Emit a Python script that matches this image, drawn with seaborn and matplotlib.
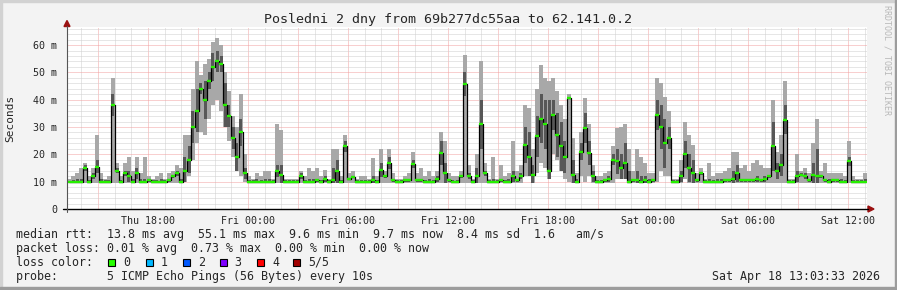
import matplotlib
matplotlib.use('Agg')
import matplotlib.pyplot as plt
import seaborn as sns
import numpy as np
import pandas as pd
from matplotlib.lines import Line2D
from matplotlib.patches import Rectangle, Polygon

# ---------------- data (ms, one value per 14.4-minute step) ----------------
med = [10, 10, 10, 10, 15, 10, 12, 15.5, 10, 10,
       10, 38, 14, 10, 13, 12, 10, 13, 10, 10,
       10.5, 10, 10, 10, 10, 10.5, 12, 13, 10, 14,
       18, 30, 36, 44, 40, 47, 52, 54, 53, 38,
       34, 26, 19, 28, 13, 10, 10, 10, 10, 10,
       10, 10, 13.8, 12.6, 10, 10, 10, 10, 12, 10,
       10, 10, 10.5, 10, 11, 10, 10.7, 13.8, 10, 23,
       11, 11.6, 10, 10, 10, 10, 10.5, 10, 14.4, 12,
       16.8, 10.5, 10, 10, 10.5, 10.5, 16.5, 10.5, 10.5, 10,
       10, 10, 11, 20.5, 13, 10.5, 10, 10, 12, 45.7,
       12, 10, 12, 31, 13, 10, 10, 10, 10.5, 10,
       10, 12, 10.5, 12, 23.5, 19, 12.6, 26.6, 33, 31,
       14, 34.5, 27, 23, 19, 40.6, 12.6, 10, 21, 29.6,
       20.5, 12, 10, 10, 10.5, 11, 18, 17.4, 15, 17,
       10, 10.5, 10.5, 10, 10.5, 10, 10.5, 34.5, 30, 24,
       26, 10, 10, 12, 20, 15, 13, 10.5, 13, 10,
       10, 10, 10, 10, 10.5, 10.5, 11, 13, 10.5, 10.5,
       10.5, 10.5, 11, 10.5, 11, 12, 23, 14, 16, 32.7,
       10, 10, 12, 12.5, 12, 10.5, 12.5, 12, 12, 10.5,
       10, 10.5, 10.5, 10, 10, 17.4, 10, 10, 10, 10]

hi = [11, 12, 13, 15, 17, 12, 15, 27, 13, 11,
      12, 48, 17, 12, 17, 19, 14, 19, 13, 19,
      12, 11, 12, 13, 11, 13, 14, 16, 15, 27,
      27, 44, 54, 49, 53, 55, 61, 62.5, 60, 50,
      43, 34, 30, 42, 20, 12, 11, 13, 12, 14,
      14, 11, 31, 29, 11, 11, 11, 11, 14, 12,
      15, 14, 15, 12, 14.4, 11, 22, 22, 12, 27,
      13, 14, 11, 12, 12, 11, 18.7, 12, 22, 14,
      22, 13, 11, 11, 12, 13, 21, 13, 15, 12,
      14, 12, 14, 28, 25, 13, 12, 12, 14, 56.5,
      16, 11, 20, 54, 17, 11, 19, 11, 16, 12,
      13, 25, 14, 16, 38, 37, 22, 44, 52.8, 48,
      47, 48, 43, 38, 33, 42, 26, 13, 28, 40.6,
      31, 16, 12, 12, 13, 14, 23, 29.6, 30, 31,
      22, 14, 22, 19, 17, 13, 13, 48, 46, 41,
      36, 11, 11, 18, 32, 27, 23.5, 13, 15, 11,
      17, 12, 13, 13, 14, 15, 21, 21, 15, 16,
      14, 17, 18, 16, 15, 15, 40, 21, 27, 47,
      11, 11, 20, 14, 15, 13, 24, 33, 14, 17,
      13, 13, 13, 13, 12, 25, 12, 11, 11, 13]

dk = [10, 10.5, 11, 11, 16, 10.5, 13, 18, 11, 10.5,
      10.5, 42, 15, 10.5, 14, 14, 11, 15, 11, 11,
      11, 10.5, 10.5, 11, 10.5, 11, 12.5, 14, 11, 19,
      23, 36, 44, 46, 47, 50, 57, 58, 56, 46,
      38, 30, 24, 33, 15, 10.5, 10.5, 11, 10.5, 11,
      11, 10.5, 16, 16, 10.5, 10.5, 10.5, 10.5, 13, 10.5,
      11, 11, 11, 10.5, 12, 10.5, 15, 18, 10.5, 25,
      11.5, 12, 10.5, 10.5, 10.5, 10.5, 12, 10.5, 17, 12.5,
      19, 11, 10.5, 10.5, 11, 11, 18, 11, 11, 10.5,
      11, 10.5, 12, 25, 17, 11, 10.5, 10.5, 12.5, 50,
      13, 10.5, 15, 40, 14, 10.5, 11, 10.5, 11, 10.5,
      11, 14, 11, 13, 30, 28, 16, 34, 42, 40,
      40, 40, 35, 32, 25, 41, 18, 11, 24, 35,
      25, 14, 10.5, 10.5, 11, 12, 20, 22, 20, 24,
      14, 11, 14, 12, 12, 11, 11, 40, 38, 33,
      30, 10.5, 10.5, 14, 25, 20, 18, 11, 13.5, 10.5,
      11, 10.5, 11, 11, 11, 11, 14, 16, 11, 11,
      11, 11, 12, 11, 12, 12.5, 32, 17, 20, 38,
      10.5, 10.5, 14, 13, 13, 11, 17, 22, 12.5, 11,
      11, 11, 11, 11, 10.5, 19, 10.5, 10.5, 10.5, 11]

lo = [9.6, 9.6, 9.6, 9.6, 9.6, 9.6, 9.6, 9.6, 9.6, 9.6,
      9.6, 9.6, 9.6, 9.6, 9.6, 9.6, 9.6, 9.6, 9.6, 9.6,
      9.6, 9.6, 9.6, 9.6, 9.6, 9.6, 9.6, 9.6, 9.6, 10,
      12, 18, 24, 28, 27, 33, 38, 40, 36, 30,
      25, 19, 14, 12, 10, 9.6, 9.6, 9.6, 9.6, 9.6,
      9.6, 9.6, 9.6, 9.6, 9.6, 9.6, 9.6, 9.6, 9.6, 9.6,
      9.6, 9.6, 9.6, 9.6, 9.6, 9.6, 9.6, 9.6, 9.6, 9.6,
      9.6, 9.6, 9.6, 9.6, 9.6, 9.6, 9.6, 9.6, 9.6, 9.6,
      9.6, 9.6, 9.6, 9.6, 9.6, 9.6, 9.6, 9.6, 9.6, 9.6,
      9.6, 9.6, 9.6, 9.6, 9.6, 9.6, 9.6, 9.6, 9.6, 9.6,
      9.6, 9.6, 9.6, 9.6, 9.6, 9.6, 9.6, 9.6, 9.6, 9.6,
      9.6, 9.6, 9.6, 9.6, 12, 12, 9.6, 13, 17, 15,
      11, 20, 18, 14, 11, 10, 9.6, 9.6, 12, 10,
      12, 9.6, 9.6, 9.6, 9.6, 9.6, 9.6, 11, 11, 11,
      9.6, 9.6, 9.6, 9.6, 9.6, 9.6, 9.6, 10, 14, 12,
      12, 9.6, 9.6, 9.6, 11, 9.6, 9.6, 9.6, 9.6, 9.6,
      9.6, 9.6, 9.6, 9.6, 9.6, 9.6, 9.6, 9.6, 9.6, 9.6,
      9.6, 9.6, 9.6, 9.6, 9.6, 9.6, 9.6, 9.6, 9.6, 9.6,
      9.6, 9.6, 9.6, 9.6, 9.6, 9.6, 9.6, 9.6, 9.6, 9.6,
      9.6, 9.6, 9.6, 9.6, 9.6, 9.6, 9.6, 9.6, 9.6, 9.6]

start_hour = 13.14          # Thu 13:08, hours since Thu 00:00
step_hours = 0.24
end_hour = 61.14

x_tick_hours = [18, 24, 30, 36, 42, 48, 54, 60]
x_tick_labels = ["Thu 18:00", "Fri 00:00", "Fri 06:00", "Fri 12:00",
                 "Fri 18:00", "Sat 00:00", "Sat 06:00", "Sat 12:00"]
y_tick_values = [0, 10, 20, 30, 40, 50, 60]
y_tick_labels = ["0", "10 m", "20 m", "30 m", "40 m", "50 m", "60 m"]

title = "Posledni 2 dny from 69b277dc55aa to 62.141.0.2"
legend_line1 = "median rtt:  13.8 ms avg  55.1 ms max  9.6 ms min  9.7 ms now  8.4 ms sd  1.6   am/s"
legend_line2 = "packet loss: 0.01 % avg  0.73 % max  0.00 % min  0.00 % now"
loss_labels = ["0", "1", "2", "3", "4", "5/5"]
loss_colors = ["#26ff00", "#00b8ff", "#0059ff", "#7e00ff", "#ff0000", "#a10000"]
probe_line = "probe:       5 ICMP Echo Pings (56 Bytes) every 10s"
stamp = "Sat Apr 18 13:03:33 2026"

# ---------------- figure ----------------
sns.set_style('white')
plt.rcParams['font.family'] = ['DejaVu Sans Mono', 'DejaVu Sans']

W, H = 897, 290
fig = plt.figure(figsize=(W / 100, H / 100), dpi=100, facecolor='#f3f3f3')


def fxy(x, y):
    return x / W, 1 - y / H


L, R, T, B = 67, 867, 27, 209
ax = fig.add_axes([L / W, 1 - B / H, (R - L) / W, (B - T) / H])
ax.set_facecolor('white')
for s in ax.spines.values():
    s.set_visible(False)

n = len(med)
df = pd.DataFrame({'t': start_hour + step_hours * (np.arange(n) + 0.5),
                   'med': med, 'hi': hi, 'dk': dk, 'lo': lo})
left = df['t'] - step_hours / 2

# grid (under the data)
for h in range(14, 62):
    major = (h % 3 == 0)
    ax.axvline(h, color='#f2a0a0' if major else '#cfcfcf', lw=0.72,
               ls=(0, (1, 1)), zorder=0.5)
for v in range(2, 67, 2):
    major = (v % 10 == 0)
    ax.axhline(v, color='#f2a0a0' if major else '#cfcfcf', lw=0.72,
               ls=(0, (1, 1)), zorder=0.5)

# smoke
ax.bar(left, df['hi'] - df['lo'], bottom=df['lo'], width=step_hours, align='edge',
       color='#a8a8a8', linewidth=0, zorder=2)
dlo = np.maximum(df['lo'], 2 * df['med'] - df['dk'])
ax.bar(df['t'], df['dk'] - dlo, bottom=dlo, width=step_hours * 0.75, align='center',
       color='#575757', linewidth=0, zorder=3)

# median
sns.lineplot(data=df, x='t', y='med', drawstyle='steps-mid', color='black',
             linewidth=0.9, ax=ax, zorder=4, estimator=None)
ax.hlines(df['med'], left, left + step_hours, colors='#26f000', linewidth=1.7, zorder=5)

ax.set_xlim(start_hour, end_hour)
ax.set_ylim(0, 66.6)
ax.set_xlabel('')
ax.set_ylabel('')

major_x = list(range(15, 61, 3))
ax.set_xticks(major_x)
ax.set_xticklabels([x_tick_labels[x_tick_hours.index(h)] if h in x_tick_hours else ''
                    for h in major_x])
ax.set_xticks(range(14, 62), minor=True)
ax.set_yticks(y_tick_values)
ax.set_yticklabels(y_tick_labels)
ax.set_yticks(range(2, 67, 2), minor=True)
ax.tick_params(axis='x', which='major', length=4, width=0.7, color='#e07070',
               direction='inout', pad=3, labelsize=7.2)
ax.tick_params(axis='x', which='minor', length=2, width=0.7, color='#b0b0b0',
               direction='inout')
ax.tick_params(axis='y', which='major', length=4, width=0.7, color='#e07070',
               direction='inout', pad=5, labelsize=7.2)
ax.tick_params(axis='y', which='minor', length=2, width=0.7, color='#b0b0b0',
               direction='inout')

# axis lines and arrows
fig.add_artist(Line2D([63 / W, 868 / W], [1 - 209 / H, 1 - 209 / H],
                      color='black', lw=1.0, transform=fig.transFigure))
fig.add_artist(Line2D([67 / W, 67 / W], [1 - 212 / H, 1 - 26 / H],
                      color='#555555', lw=0.8, transform=fig.transFigure))
fig.add_artist(Polygon([fxy(64, 26.5), fxy(70, 26.5), fxy(67, 20.5)], closed=True,
                       color='#9a1010', transform=fig.transFigure))
fig.add_artist(Polygon([fxy(868, 206), fxy(868, 212), fxy(874, 209)], closed=True,
                       color='#9a1010', transform=fig.transFigure))

# border
fig.add_artist(Rectangle((0, 1 - 2 / H), 1, 2 / H, color='#d2d2d2', transform=fig.transFigure))
fig.add_artist(Rectangle((0, 0), 2 / W, 1, color='#d2d2d2', transform=fig.transFigure))
fig.add_artist(Rectangle((1 - 2 / W, 0), 2 / W, 1, color='#9c9c9c', transform=fig.transFigure))
fig.add_artist(Rectangle((0, 0), 1, 3 / H, color='#9c9c9c', transform=fig.transFigure))

# texts
mono = 'DejaVu Sans Mono'
fig.text(*fxy(448, 19), title, ha='center', va='center', fontsize=9.6, family=mono)
fig.text(*fxy(10, 118), 'Seconds', ha='center', va='center', rotation=90,
         fontsize=8, family=mono)
fig.text(*fxy(887, 60), 'RRDTOOL / TOBI OETIKER', ha='center', va='center',
         rotation=270, fontsize=6, family=mono, color='#b8b8b8')

fs = 8.4
fig.text(*fxy(16, 234.5), legend_line1, ha='left', va='center', fontsize=fs, family=mono)
fig.text(*fxy(16, 248.5), legend_line2, ha='left', va='center', fontsize=fs, family=mono)
fig.text(*fxy(16, 262), 'loss color:', ha='left', va='center', fontsize=fs, family=mono)
sq_x = [108, 145.5, 183, 219.5, 257, 293]
for xs, lab, col in zip(sq_x, loss_labels, loss_colors):
    x0, y0 = fxy(xs, 265.5)
    fig.add_artist(Rectangle((x0, y0), 7 / W, 7 / H, facecolor=col, edgecolor='black',
                             lw=0.8, transform=fig.transFigure))
    fig.text(*fxy(xs + 15, 262), lab, ha='left', va='center', fontsize=fs, family=mono)
fig.text(*fxy(16, 276.5), probe_line, ha='left', va='center', fontsize=fs, family=mono)
fig.text(*fxy(880, 276.5), stamp, ha='right', va='center', fontsize=fs, family=mono)

fig.savefig('out.png', dpi=100, facecolor=fig.get_facecolor())
